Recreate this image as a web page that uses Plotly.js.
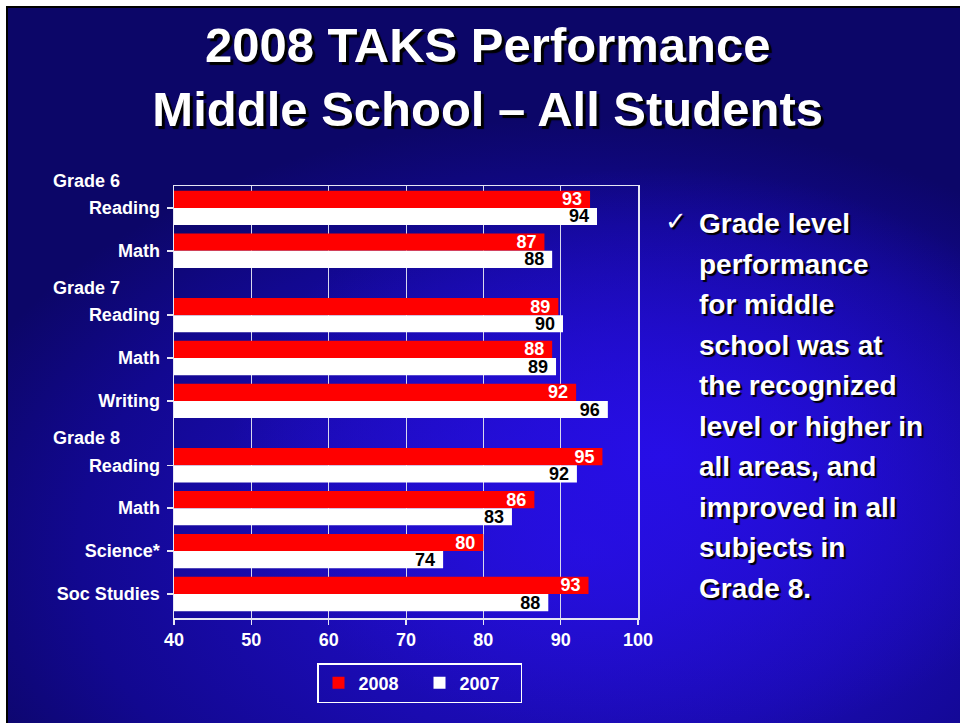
<!DOCTYPE html>
<html>
<head>
<meta charset="utf-8">
<script src="https://cdn.plot.ly/plotly-3.0.1.min.js"></script>
<style>
  html, body { margin: 0; padding: 0; width: 960px; height: 723px; overflow: hidden; background: #ffffff; }
  #slide {
    position: absolute; left: 6px; top: 6px; width: 960px; height: 723px;
    border-top: 2px solid #000; border-left: 2px solid #000;
    background:
      radial-gradient(ellipse 45% 40% at 68% 62%, rgba(40,14,235,0.9) 0%, rgba(40,14,235,0) 100%),
      radial-gradient(ellipse 70% 60% at 60% 75%, #2410d2 0%, #1a0bb0 45%, #120890 75%, #0c0668 100%);
  }
  #chart { position: absolute; left: 0; top: 0; width: 960px; height: 723px; }
</style>
</head>
<body>
<div id="slide"></div>
<div id="chart"></div>
<script>
// ---- data ----
const grades = ["Grade 6", "Grade 7", "Grade 8"];
const subjects = ["Reading", "Math", "Reading", "Math", "Writing", "Reading", "Math", "Science*", "Soc Studies"];
const subjectGrade = [0, 0, 1, 1, 1, 2, 2, 2, 2];
const values2008 = [93.8, 87.9, 89.7, 88.9, 92.0, 95.4, 86.6, 80.0, 93.6];
const values2007 = [94.7, 88.9, 90.3, 89.4, 96.1, 92.1, 83.7, 74.8, 88.4];
const labels2008 = ["93", "87", "89", "88", "92", "95", "86", "80", "93"];
const labels2007 = ["94", "88", "90", "89", "96", "92", "83", "74", "88"];
const seriesNames = ["2008", "2007"];
const xTicks = [40, 50, 60, 70, 80, 90, 100];
const noteLines = ["Grade level", "performance", "for middle", "school was at", "the recognized",
                   "level or higher in", "all areas, and", "improved in all", "subjects in", "Grade 8."];

// row positions: one unit per subject, half-unit extra gap between grades
const pos = subjects.map((s, i) => i + 0.5 * subjectGrade[i]);

// ---- layout helpers ----
const W = 960, H = 723;
const M = { l: 174, r: 322, t: 186, b: 105 };
const PW = W - M.l - M.r, PH = H - M.t - M.b;
const px2x = x => (x - M.l) / PW;
const px2y = y => (H - M.b - y) / PH;
const yRange = [Math.max(...pos) + 0.56, -0.51];
const val2paperY = v => (yRange[0] - v) / (yRange[0] - yRange[1]);

const FONT = "Liberation Sans, Arial, Helvetica, sans-serif";

const traces = [
  {
    type: "bar", orientation: "h", name: seriesNames[0],
    x: values2008, y: pos, text: labels2008,
    texttemplate: "%{text}\u00a0", textposition: "inside", insidetextanchor: "end",
    constraintext: "none", textangle: 0,
    insidetextfont: { family: FONT, size: 18, color: "#ffffff", weight: "bold" },
    marker: { color: "#ff0000", line: { width: 0 } },
    hoverinfo: "skip"
  },
  {
    type: "bar", orientation: "h", name: seriesNames[1],
    x: values2007, y: pos, text: labels2007,
    texttemplate: "%{text}\u00a0", textposition: "inside", insidetextanchor: "end",
    constraintext: "none", textangle: 0,
    insidetextfont: { family: FONT, size: 18, color: "#000000", weight: "bold" },
    marker: { color: "#ffffff", line: { width: 0 } },
    hoverinfo: "skip"
  }
];

const annotations = [];
// grade group labels
grades.forEach((g, gi) => {
  const first = subjectGrade.indexOf(gi);
  annotations.push({
    text: g, xref: "paper", yref: "paper", x: px2x(51), y: val2paperY(pos[first] - 0.63),
    xanchor: "left", yanchor: "middle", showarrow: false,
    font: { family: FONT, size: 18, color: "#ffffff", weight: "bold" }
  });
});
// check mark
annotations.push({
  text: "\u2713", xref: "paper", yref: "paper", x: px2x(676), y: px2y(221),
  xanchor: "center", yanchor: "middle", showarrow: false,
  font: { family: "DejaVu Sans, sans-serif", size: 26, color: "#ffffff", shadow: "2px 2px 1px #000" }
});
// note text lines
noteLines.forEach((t, i) => {
  annotations.push({
    text: t, xref: "paper", yref: "paper", x: px2x(697), y: px2y(223.5 + 40.5 * i),
    xanchor: "left", yanchor: "middle", showarrow: false,
    font: { family: FONT, size: 28, color: "#ffffff", weight: "bold", shadow: "2px 2px 1px #000" }
  });
});

const layout = {
  width: W, height: H,
  margin: M,
  paper_bgcolor: "rgba(0,0,0,0)",
  plot_bgcolor: "rgba(0,0,0,0)",
  title: {
    text: "2008 TAKS Performance<br>Middle School \u2013 All Students",
    xref: "container", yref: "container", x: 0.508, xanchor: "center",
    y: 0.914, yanchor: "top",
    font: { family: FONT, size: 49, color: "#ffffff", weight: "bold", shadow: "3px 3px 1px #000" }
  },
  barmode: "group", bargap: 0.2, bargroupgap: 0,
  showlegend: true,
  legend: {
    orientation: "h", x: px2x(317), y: px2y(663), xanchor: "left", yanchor: "top",
    bgcolor: "rgba(0,0,0,0)", bordercolor: "#ffffff", borderwidth: 1.5,
    font: { family: FONT, size: 18, color: "#ffffff", weight: "bold" },
    entrywidth: 56, entrywidthmode: "pixels",
    traceorder: "normal"
  },
  xaxis: {
    range: [40, 100], tickvals: xTicks, ticktext: xTicks.map(String),
    showgrid: true, gridcolor: "#d8d8ee", gridwidth: 1,
    showline: true, linecolor: "#e6e6f4", linewidth: 1.5, mirror: true,
    ticks: "outside", ticklen: 5, tickcolor: "#e6e6f4", tickwidth: 1.5,
    tickfont: { family: FONT, size: 18, color: "#ffffff", weight: "bold" },
    zeroline: false, fixedrange: true
  },
  yaxis: {
    range: yRange,
    tickvals: pos, ticktext: subjects,
    showgrid: false, zeroline: false,
    showline: true, linecolor: "#e6e6f4", linewidth: 1.5, mirror: true,
    ticks: "outside", ticklen: 6, tickcolor: "#e6e6f4", tickwidth: 1.5,
    ticklabelstandoff: 3,
    tickfont: { family: FONT, size: 18, color: "#ffffff", weight: "bold" },
    fixedrange: true
  },
  annotations: annotations
};

Plotly.newPlot("chart", traces, layout, { displayModeBar: false, staticPlot: true });
</script>
</body>
</html>
